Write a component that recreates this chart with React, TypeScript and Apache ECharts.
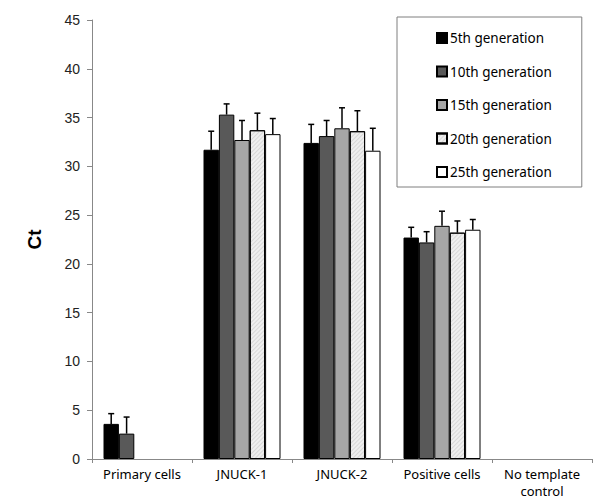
import React, { useEffect, useRef } from "react";
import * as echarts from "echarts";

const categories = ["Primary cells", "JNUCK-1", "JNUCK-2", "Positive cells", "No template\ncontrol"];
const seriesNames = ["5th generation", "10th generation", "15th generation", "20th generation", "25th generation"];
const gen5 = [3.6, 31.7, 32.4, 22.7, null];
const gen10 = [2.6, 35.3, 33.1, 22.2, null];
const gen15 = [null, 32.7, 33.9, 23.9, null];
const gen20 = [null, 33.7, 33.6, 23.2, null];
const gen25 = [null, 33.3, 31.6, 23.5, null];
const err5 = [1.05, 1.9, 1.9, 1.05, null];
const err10 = [1.7, 1.1, 1.6, 1.1, null];
const err15 = [null, 2.0, 2.1, 1.5, null];
const err20 = [null, 1.75, 2.1, 1.2, null];
const err25 = [null, 1.6, 2.3, 1.05, null];
const yTicks = [0, 5, 10, 15, 20, 25, 30, 35, 40, 45];

const values = [gen5, gen10, gen15, gen20, gen25];
const errors = [err5, err10, err15, err20, err25];
const fills = ["#000000", "#595959", "#a6a6a6", "#efefef", "#ffffff"];

export default function App() {
  const ref = useRef<HTMLDivElement>(null);
  useEffect(() => {
    document.body.style.margin = "0";
    if (!ref.current) return;
    const chart = echarts.init(ref.current, null, { renderer: "svg" });
    const GAP = 0.23;
    const barSeries = seriesNames.map((name, i) => ({
      name,
      type: "bar",
      barGap: "0%",
      barCategoryGap: "23%",
      data: values[i].map((v) => (v == null ? "-" : v)),
      itemStyle: {
        color: fills[i],
        borderColor: "#000",
        borderWidth: 1,
        ...(i === 3
          ? {
              decal: {
                symbol: "rect",
                symbolSize: 1,
                color: "rgba(170,170,170,0.35)",
                dashArrayX: [1, 0],
                dashArrayY: [1, 2],
                rotation: -Math.PI / 4,
              },
            }
          : {}),
      },
    }));
    const errSeries = seriesNames.map((name, i) => ({
      name: name + " err",
      type: "custom",
      z: 5,
      data: values[i]
        .map((v, c) => (v == null ? null : [c, v, errors[i][c]]))
        .filter((d) => d != null),
      encode: { x: 0, y: 1 },
      renderItem: (params: any, api: any) => {
        const c = api.value(0);
        const v = api.value(1);
        const e = api.value(2);
        const base = api.coord([c, v]);
        const top = api.coord([c, v + e]);
        const band = api.size([1, 0])[0];
        const bw = (band * (1 - GAP)) / 5;
        const x = base[0] + (i - 2) * bw;
        const style = { stroke: "#000", lineWidth: 1.5 };
        return {
          type: "group",
          children: [
            { type: "line", shape: { x1: x, y1: base[1], x2: x, y2: top[1] }, style },
            { type: "line", shape: { x1: x - 3, y1: top[1], x2: x + 3, y2: top[1] }, style },
          ],
        };
      },
    }));
    chart.setOption({
      animation: false,
      grid: { left: 92, right: 1, top: 20, bottom: 40, containLabel: false },
      legend: {
        data: seriesNames,
        orient: "vertical",
        left: 397,
        top: 17,
        padding: [14, 30, 8, 39],
        itemGap: 19.5,
        itemWidth: 10,
        itemHeight: 10,
        icon: "rect",
        borderColor: "#7f7f7f",
        borderWidth: 1,
        backgroundColor: "#fff",
        textStyle: { fontFamily: "Noto Sans", fontSize: 13.5, color: "#000", padding: [0, 0, 0, -2] },
      },
      xAxis: {
        type: "category",
        data: categories,
        axisLine: { lineStyle: { color: "#888", width: 1 } },
        axisTick: { show: true, length: 4, lineStyle: { color: "#888" } },
        axisLabel: {
          fontFamily: "Noto Sans",
          fontSize: 13,
          color: "#000",
          margin: 6,
          lineHeight: 17,
          interval: 0,
        },
      },
      yAxis: {
        type: "value",
        min: 0,
        max: 45,
        interval: 5,
        name: "Ct",
        nameLocation: "middle",
        nameGap: 48,
        nameTextStyle: { fontFamily: "Liberation Sans", fontSize: 19, fontWeight: "bold", color: "#000" },
        axisLine: { show: true, lineStyle: { color: "#888", width: 1 } },
        axisTick: { show: true, length: 5, lineStyle: { color: "#888" } },
        axisLabel: { fontFamily: "Liberation Sans", fontSize: 14, color: "#222", margin: 12 },
        splitLine: { show: false },
      },
      series: [...barSeries, ...errSeries],
    });
    return () => chart.dispose();
  }, []);
  return <div ref={ref} style={{ width: 593, height: 499 }} />;
}
